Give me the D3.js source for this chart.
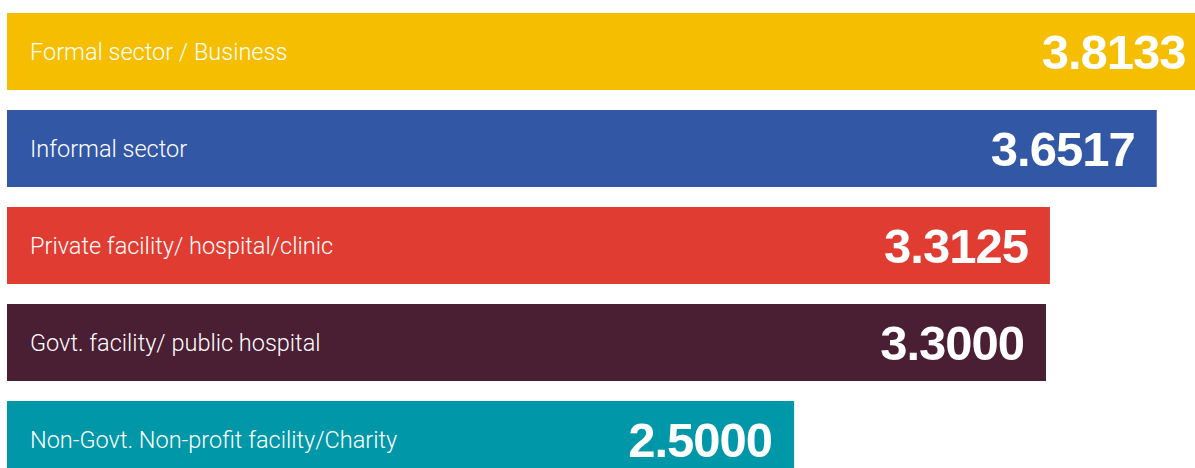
<!DOCTYPE html>
<html><head><meta charset="utf-8">
<script src="https://cdn.jsdelivr.net/npm/d3@7"></script>
<style>html,body{margin:0;padding:0;background:#fff;overflow:hidden}</style>
</head><body>
<svg id="c" width="1195" height="468"></svg>
<script>
const categories = ["Formal sector / Business","Informal sector","Private facility/ hospital/clinic","Govt. facility/ public hospital","Non-Govt. Non-profit facility/Charity"];
const values = [3.8133, 3.6517, 3.3125, 3.3000, 2.5000];
const valueLabels = ["3.8133","3.6517","3.3125","3.3000","2.5000"];
const colors = ["#F5BE00","#3257A5","#E03C31","#4A1E33","#0097A9"];

const svg = d3.select("#c");
const x = d3.scaleLinear().domain([0, 1]).range([7, 7 + 314.85]);
// band step 97, bar height 77
const y = d3.scaleBand().domain(categories).range([13, 13 + 97 * 5 - 20]).paddingInner(20/97).paddingOuter(0);
const g = svg.append("g");
g.selectAll("rect").data(categories).join("rect")
  .attr("x", x(0)).attr("y", d => y(d))
  .attr("width", (d,i) => x(values[i]) - x(0))
  .attr("height", y.bandwidth())
  .attr("fill", (d,i) => colors[i]);

g.selectAll("text.cat").data(categories).join("text").attr("class","cat")
  .attr("x", 30).attr("y", d => y(d) + y.bandwidth()/2 + 8)
  .attr("fill", "#fff")
  .attr("font-family", "Roboto, 'Liberation Sans', sans-serif")
  .attr("font-weight", 300)
  .attr("font-size", 23.5)
  .text(d => d);

g.selectAll("text.val").data(categories).join("text").attr("class","val")
  .attr("x", (d,i) => x(values[i]) - 22)
  .attr("y", d => y(d) + y.bandwidth()/2 + 17)
  .attr("text-anchor", "end")
  .attr("fill", "#fff")
  .attr("font-family", "'Liberation Sans', Arial, sans-serif")
  .attr("font-weight", 700)
  .attr("font-size", 49)
  .attr("letter-spacing", "-1px")
  .text((d,i) => valueLabels[i]);
</script>
</body></html>
